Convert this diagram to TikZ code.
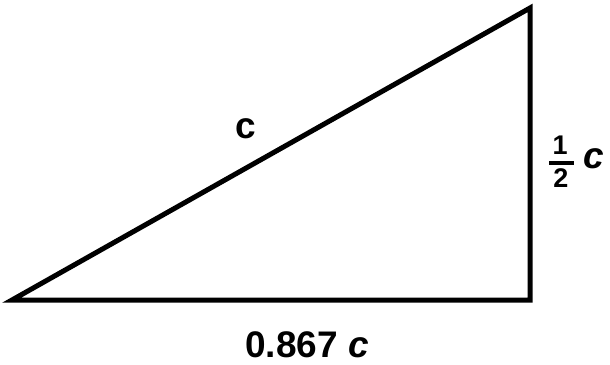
\documentclass[tikz,border=0pt]{standalone}
\usepackage{fontspec}
\setmainfont{Liberation Sans}
\begin{document}
\begin{tikzpicture}[x=1pt,y=-1pt,
  edge/.style={line width=5pt, line join=miter},
  big/.style={font=\bfseries\fontsize{37}{40}\selectfont, inner sep=0pt, anchor=base},
  small/.style={font=\bfseries\fontsize{27}{30}\selectfont, inner sep=0pt, anchor=base}]
\useasboundingbox (0,0) rectangle (610,364);
\coordinate (A) at (12,300);
\coordinate (B) at (530,300);
\coordinate (C) at (530,8);
\draw[edge] (A) -- (B) -- (C) -- cycle;
\node[big] (hyp) at (246,138) {c};
\node[big] (base) at (307,357) {0.867 \textit{c}};
\node[small] (one) at (560,154) {1};
\node[small] (two) at (561,187) {2};
\coordinate (barL) at (549,163);
\coordinate (barR) at (574,163);
\draw[line width=3.5pt] (barL) -- (barR);
\node[big] (cc) at (594,168) {\textit{c}};
\end{tikzpicture}
\end{document}
